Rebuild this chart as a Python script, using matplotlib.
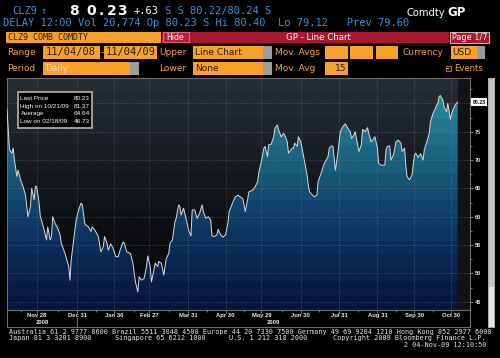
import matplotlib
matplotlib.use("Agg")
import matplotlib.pyplot as plt
import matplotlib.dates as mdates
from matplotlib.patches import Rectangle
from matplotlib.lines import Line2D
from matplotlib.ticker import MultipleLocator
from matplotlib.transforms import blended_transform_factory
import numpy as np
import pandas as pd

# CLZ9 COMB COMDTY, 11/04/08 - 11/04/09
dates = [
    "2008-11-04", "2008-11-06", "2008-11-08", "2008-11-09", "2008-11-10", "2008-11-12",
    "2008-11-13", "2008-11-15", "2008-11-17", "2008-11-19", "2008-11-21", "2008-11-23",
    "2008-11-24", "2008-11-26", "2008-11-27", "2008-11-28", "2008-11-30", "2008-12-01",
    "2008-12-02", "2008-12-04", "2008-12-06", "2008-12-07", "2008-12-09", "2008-12-10",
    "2008-12-11", "2008-12-13", "2008-12-15", "2008-12-17", "2008-12-18", "2008-12-21",
    "2008-12-24", "2008-12-25", "2008-12-26", "2008-12-28", "2008-12-30", "2009-01-01",
    "2009-01-03", "2009-01-04", "2009-01-06", "2009-01-07", "2009-01-09", "2009-01-11",
    "2009-01-12", "2009-01-14", "2009-01-17", "2009-01-19", "2009-01-21", "2009-01-22",
    "2009-01-24", "2009-01-25", "2009-01-27", "2009-01-29", "2009-01-31", "2009-02-02",
    "2009-02-04", "2009-02-06", "2009-02-07", "2009-02-09", "2009-02-12", "2009-02-14",
    "2009-02-16", "2009-02-18", "2009-02-19", "2009-02-21", "2009-02-23", "2009-02-25",
    "2009-02-26", "2009-02-28", "2009-03-01", "2009-03-03", "2009-03-04", "2009-03-06",
    "2009-03-07", "2009-03-09", "2009-03-11", "2009-03-13", "2009-03-15", "2009-03-16",
    "2009-03-18", "2009-03-20", "2009-03-21", "2009-03-23", "2009-03-24", "2009-03-25",
    "2009-03-27", "2009-03-29", "2009-03-31", "2009-04-02", "2009-04-03", "2009-04-05",
    "2009-04-07", "2009-04-09", "2009-04-11", "2009-04-12", "2009-04-14", "2009-04-16",
    "2009-04-18", "2009-04-19", "2009-04-21", "2009-04-23", "2009-04-24", "2009-04-26",
    "2009-04-28", "2009-04-30", "2009-05-02", "2009-05-03", "2009-05-04", "2009-05-06",
    "2009-05-08", "2009-05-10", "2009-05-12", "2009-05-14", "2009-05-16", "2009-05-18",
    "2009-05-19", "2009-05-22", "2009-05-24", "2009-05-26", "2009-05-27", "2009-05-29",
    "2009-05-31", "2009-06-01", "2009-06-03", "2009-06-04", "2009-06-06", "2009-06-08",
    "2009-06-09", "2009-06-11", "2009-06-12", "2009-06-14", "2009-06-16", "2009-06-17",
    "2009-06-19", "2009-06-20", "2009-06-21", "2009-06-23", "2009-06-24", "2009-06-25",
    "2009-06-27", "2009-06-28", "2009-06-30", "2009-07-01", "2009-07-03", "2009-07-05",
    "2009-07-06", "2009-07-07", "2009-07-09", "2009-07-11", "2009-07-13", "2009-07-14",
    "2009-07-16", "2009-07-18", "2009-07-19", "2009-07-22", "2009-07-23", "2009-07-25",
    "2009-07-26", "2009-07-28", "2009-07-30", "2009-08-01", "2009-08-03", "2009-08-05",
    "2009-08-07", "2009-08-09", "2009-08-10", "2009-08-12", "2009-08-13", "2009-08-15",
    "2009-08-16", "2009-08-18", "2009-08-19", "2009-08-21", "2009-08-23", "2009-08-24",
    "2009-08-26", "2009-08-28", "2009-08-29", "2009-08-31", "2009-09-01", "2009-09-03",
    "2009-09-06", "2009-09-07", "2009-09-08", "2009-09-10", "2009-09-11", "2009-09-13",
    "2009-09-15", "2009-09-17", "2009-09-19", "2009-09-20", "2009-09-22", "2009-09-23",
    "2009-09-24", "2009-09-26", "2009-09-28", "2009-09-30", "2009-10-01", "2009-10-03",
    "2009-10-05", "2009-10-07", "2009-10-08", "2009-10-10", "2009-10-12", "2009-10-13",
    "2009-10-15", "2009-10-17", "2009-10-18", "2009-10-19", "2009-10-20", "2009-10-21",
    "2009-10-23", "2009-10-24", "2009-10-26", "2009-10-27", "2009-10-28", "2009-10-29",
    "2009-10-31", "2009-11-02", "2009-11-04",
]
prices = [
    79.0, 71.8, 71.2, 72.1, 70.0, 67.1,
    68.2, 66.5, 65.3, 63.8, 60.0, 61.8,
    65.0, 63.0, 65.4, 65.3, 62.4, 60.0,
    59.4, 57.7, 55.9, 58.2, 55.9, 56.5,
    60.0, 58.8, 58.0, 56.8, 55.3, 53.5,
    51.2, 48.8, 52.4, 55.9, 59.4, 61.2,
    62.4, 62.1, 58.8, 58.5, 58.2, 57.4,
    58.2, 57.7, 56.5, 53.8, 54.7, 56.5,
    55.3, 54.1, 55.2, 54.4, 53.0, 52.9,
    54.4, 55.5, 55.3, 53.8, 53.5, 51.8,
    48.5, 46.73, 49.4, 48.8, 49.1, 51.2,
    53.1, 51.2, 48.5, 50.6, 51.8, 51.2,
    52.1, 51.8, 49.7, 52.6, 53.5, 55.3,
    55.9, 59.1, 59.7, 62.1, 61.8, 60.3,
    61.5, 59.7, 57.7, 56.6, 61.2, 61.2,
    59.7, 60.6, 62.1, 60.9, 59.7, 60.0,
    59.4, 56.6, 56.5, 56.8, 57.8, 56.8,
    56.4, 56.8, 59.0, 61.0, 61.5, 62.6,
    63.5, 63.8, 63.5, 63.2, 60.9, 63.2,
    64.4, 64.7, 65.3, 66.2, 67.9, 69.7,
    72.1, 72.4, 70.6, 72.7, 72.8, 74.1,
    75.6, 76.2, 75.3, 74.1, 74.7, 74.4,
    73.2, 71.2, 71.5, 72.1, 72.1, 73.0,
    72.4, 74.1, 73.2, 72.1, 69.7, 67.4,
    65.6, 64.4, 63.9, 63.5, 63.8, 66.2,
    67.4, 68.8, 69.4, 70.6, 72.1, 72.5,
    72.4, 68.2, 71.3, 75.0, 75.9, 76.4,
    75.6, 75.0, 73.8, 74.4, 75.0, 72.7,
    71.5, 72.7, 75.4, 75.0, 75.7, 74.7,
    73.2, 73.8, 74.1, 72.1, 69.4, 69.1,
    69.1, 71.8, 72.4, 72.5, 70.0, 70.9,
    73.2, 73.5, 73.0, 71.5, 72.1, 69.1,
    67.1, 66.5, 67.4, 70.9, 71.2, 70.5,
    71.1, 70.0, 71.8, 73.2, 74.7, 76.8,
    78.2, 79.1, 79.7, 80.0, 81.2, 81.37,
    80.6, 79.4, 78.5, 80.0, 78.8, 77.2,
    78.8, 79.7, 80.23,
]

tick_dates = ["2008-11-28", "2008-12-31", "2009-01-30", "2009-02-27", "2009-03-31", "2009-04-30",
              "2009-05-29", "2009-06-30", "2009-07-31", "2009-08-31", "2009-09-30", "2009-10-30"]
tick_labels = ["Nov 28", "Dec 31", "Jan 30", "Feb 27", "Mar 31", "Apr 30",
               "May 29", "Jun 30", "Jul 31", "Aug 31", "Sep 30", "Oct 30"]
price_ticks = [45, 50, 55, 60, 65, 70, 75, 80]
price_labels = ["45", "50", "55", "60", "65", "70", "75", ""]

stat_names = ["Last Price", "High on 10/21/09", "Average", "Low on 02/18/09"]
stat_values = ["80.23", "81.37", "64.64", "46.73"]

W, H = 500, 358
MONO = "DejaVu Sans Mono"
SANS = "DejaVu Sans"
ARIAL = "Liberation Sans"
BLUE = "#3c92d4"
ORANGE = "#f7a12a"
DARK = "#2a1c08"
LBL = "#f0a33c"
RED = "#a8182e"
GRAY = "#9c9c9c"

fig = plt.figure(figsize=(W / 100, H / 100), dpi=100, facecolor="black")


def fx(x):
    return x / W


def fy(y):
    return 1 - y / H


def box(x0, y0, x1, y1, color, ec="none", lw=0):
    fig.add_artist(Rectangle((fx(x0), fy(y1)), (x1 - x0) / W, (y1 - y0) / H,
                             facecolor=color, edgecolor=ec, lw=lw, transform=fig.transFigure))


def txt(x, y, s, color, size, ha="left", weight="normal", family=SANS):
    fig.text(fx(x), fy(y), s, color=color, fontsize=size, ha=ha, va="center",
             fontweight=weight, family=family)


def stepped(stops, n=17):
    # bloomberg style banded vertical gradient, top -> bottom
    pos = (np.arange(n) + 0.5) / n
    where = [s[0] for s in stops]
    cols = np.array([s[1] for s in stops]) / 255.0
    out = np.stack([np.interp(pos, where, cols[:, i]) for i in range(3)], axis=-1)
    return out[:, None, :]


# ---- header lines
txt(12, 11, "CLZ9", BLUE, 7.5, family=MONO)
txt(41, 11, "\u2191", BLUE, 7.5, family=MONO)
for ch, cx in zip("80.23", [74.2, 91.3, 101.3, 111.3, 121.7]):
    txt(cx, 11, ch, "white", 10, ha="center", weight="bold", family=SANS)
txt(133, 11, "+.63", "white", 7.5, family=MONO)
txt(165, 11, "S S 80.22/80.24 S", BLUE, 7.5, family=MONO)
txt(445, 12.5, "Comdty", "white", 7.2, ha="right")
txt(447, 12.5, "GP", "white", 8.5, weight="bold")
txt(3, 23.5, "DELAY 12:00 Vol 20,774 Op 80.23 S Hi 80.40  Lo 79.12   Prev 79.60", BLUE, 7.5, family=MONO)

# ---- toolbar
box(6, 31.7, 161, 42.7, ORANGE)
txt(8, 37.4, "CLZ9 COMB COMDTY", DARK, 6, family=MONO)
box(162, 31.7, 449, 42.7, RED)
box(162.5, 32.2, 188.5, 42.3, "#b82038", ec="#e07888", lw=0.6)
txt(175.5, 37.2, "Hide", "white", 5.6, ha="center")
txt(318, 37.2, "GP - Line Chart", "white", 6.2, ha="center")
box(450, 31.7, 489, 42.7, RED, ec="#d8d8d8", lw=0.6)
txt(469.5, 37.2, "Page 1/7", "white", 5.9, ha="center")

r2 = (45.7, 59.3, 52.5)
r3 = (61.7, 75.0, 68.3)
txt(7, r2[2], "Range", LBL, 6.5)
box(43.3, r2[0], 100, r2[1], ORANGE)
txt(45.5, r2[2], "11/04/08", DARK, 7.5, family=MONO)
txt(101.8, r2[2], "-", LBL, 6.5, ha="center")
box(104, r2[0], 156.7, r2[1], ORANGE)
txt(106, r2[2], "11/04/09", DARK, 7.5, family=MONO)
txt(159.3, r2[2], "Upper", LBL, 6.5)
box(193.3, r2[0], 262.7, r2[1], ORANGE)
box(262.7, r2[0], 271.7, r2[1], GRAY)
txt(195, r2[2], "Line Chart", DARK, 6.5)
txt(275, r2[2], "Mov. Avgs", LBL, 6.5)
for bx0, bx1 in [(325, 348.3), (350, 373.3), (375.7, 398.3)]:
    box(bx0, r2[0], bx1, r2[1], ORANGE)
txt(402.7, r2[2], "Currency", LBL, 6.5)
box(451, r2[0], 476.7, r2[1], ORANGE)
box(476.7, r2[0], 485, r2[1], GRAY)
txt(452, r2[2], "USD", DARK, 6.5)

txt(7, r3[2], "Period", LBL, 6.5)
box(43.3, r3[0], 130, r3[1], ORANGE)
box(130, r3[0], 139.3, r3[1], GRAY)
txt(45.5, r3[2], "Daily", "#fde3b8", 6.5)
txt(159.3, r3[2], "Lower", LBL, 6.5)
box(193.3, r3[0], 262.7, r3[1], ORANGE)
box(262.7, r3[0], 271.7, r3[1], GRAY)
txt(195, r3[2], "None", DARK, 6.5)
txt(275, r3[2], "Mov. Avg", LBL, 6.5)
box(325, r3[0], 348.3, r3[1], ORANGE)
txt(346.5, r3[2], "15", DARK, 6.5, ha="right")
box(445.5, 65.8, 450.5, 70.8, "none", ec=LBL, lw=0.5)
box(447.3, 67.6, 448.7, 69.0, LBL)
txt(454, r3[2], "Events", LBL, 6.1)

# ---- price chart
ax = fig.add_axes([fx(7), fy(309.5), (470 - 7) / W, (309.5 - 77.5) / H])
ax.set_facecolor("#101317")
xd = mdates.date2num(pd.to_datetime(dates))
ymin, ymax = 43.63, 84.56
x_end = xd[0] + 375

bg_stops = [(0, (38, 47, 54)), (0.35, (24, 29, 34)), (0.65, (12, 14, 17)), (1, (6, 7, 9))]
fill_stops = [(0, (44, 145, 165)), (0.15, (36, 128, 150)), (0.35, (26, 98, 128)),
              (0.55, (18, 68, 108)), (0.75, (11, 42, 88)), (1, (6, 20, 60))]

ax.imshow(stepped(bg_stops), extent=[xd[0], xd[-1], ymin, ymax], aspect="auto",
          interpolation="nearest", zorder=0)
area = ax.fill_between(xd, prices, ymin, facecolor="none", edgecolor="none")
grad = ax.imshow(stepped(fill_stops), extent=[xd[0], xd[-1], ymin, ymax], aspect="auto",
                 interpolation="nearest", zorder=1)
grad.set_clip_path(area.get_paths()[0], transform=ax.transData)
ax.plot(xd, prices, color="#d6dde4", lw=0.7, zorder=3)
ax.set_xlim(xd[0], x_end)
ax.set_ylim(ymin, ymax)

ax.set_xticks(mdates.date2num(pd.to_datetime(tick_dates)))
ax.set_xticklabels(tick_labels)
ax.xaxis.set_minor_locator(mdates.DayLocator(bymonthday=15))
ax.yaxis.tick_right()
ax.set_yticks(price_ticks)
ax.set_yticklabels(price_labels)
ax.yaxis.set_minor_locator(MultipleLocator(2.5))
ax.tick_params(which="both", colors="#b0b0b0", width=0.5, labelcolor="#ececec")
ax.tick_params(axis="x", which="major", length=2, pad=0.8, labelsize=4.2)
ax.tick_params(axis="x", which="minor", length=1.5)
ax.tick_params(axis="y", which="major", length=2.5, pad=1, labelsize=4)
ax.tick_params(axis="y", which="minor", length=1.5)
for lab in ax.get_xticklabels() + ax.get_yticklabels():
    lab.set_family(ARIAL)
    lab.set_fontweight("bold")
ax.grid(True, which="major", color="#9aa8b4", alpha=0.5, lw=0.5, linestyle=(0, (1, 1.5)))
ax.set_axisbelow(False)
for sp in ax.spines.values():
    sp.set_color("#6c6c6c")
    sp.set_linewidth(0.8)

# last price flag on the right axis
ax.text(1.006, prices[-1], stat_values[0], transform=blended_transform_factory(ax.transAxes, ax.transData),
        ha="left", va="center", fontsize=3.8, fontweight="bold", family=ARIAL, color="black",
        bbox=dict(boxstyle="square,pad=0.25", fc="white", ec="none"))

# year band under the date axis
trans = blended_transform_factory(ax.transData, fig.transFigure)
dec31 = mdates.date2num(pd.Timestamp("2008-12-31"))
ax.text((xd[0] + dec31) / 2, fy(322.5), "2008", transform=trans, ha="center", va="center",
        fontsize=4.2, fontweight="bold", family=ARIAL, color="#ececec")
ax.text((dec31 + x_end) / 2, fy(322.5), "2009", transform=trans, ha="center", va="center",
        fontsize=4.2, fontweight="bold", family=ARIAL, color="#ececec")
fig.add_artist(Line2D([dec31, dec31], [fy(318), fy(327)], transform=trans, color="#6c6c6c", lw=0.8))
box(7, 309.5, 470, 327, "none", ec="#6c6c6c", lw=0.8)

# stats legend
box(18, 91.7, 92, 128, "black", ec="#b4b4b4", lw=1.2)
for i, (name, val) in enumerate(zip(stat_names, stat_values)):
    yy = 98.3 + i * 7.8
    txt(20.5, yy, name, "white", 4.6, family=ARIAL)
    txt(89.5, yy, val, "white", 4.6, ha="right", family=ARIAL)

# scroll bar
box(488, 78, 495, 328, "#a9a9a9")
box(489, 79, 494, 287, "#c4c4c4")
box(489, 287, 494, 327, "#e6e6e6")

# ---- footer
txt(9, 331.7, "Australia 61 2 9777 8600 Brazil 5511 3048 4500 Europe 44 20 7330 7500 "
              "Germany 49 69 9204 1210 Hong Kong 852 2977 6000", "#e8e8e8", 4.9, family=MONO)
txt(9, 338.3, "Japan 81 3 3201 8900", "#e8e8e8", 4.9, family=MONO)
txt(115, 338.3, "Singapore 65 6212 1000", "#e8e8e8", 4.9, family=MONO)
txt(229, 338.3, "U.S. 1 212 318 2000", "#e8e8e8", 4.9, family=MONO)
txt(486, 338.3, "Copyright 2009 Bloomberg Finance L.P.", "#e8e8e8", 4.9, ha="right", family=MONO)
txt(486, 345, "2 04-Nov-09 12:10:50", "#e8e8e8", 4.9, ha="right", family=MONO)

fig.savefig("out.png", dpi=100, facecolor="black")
